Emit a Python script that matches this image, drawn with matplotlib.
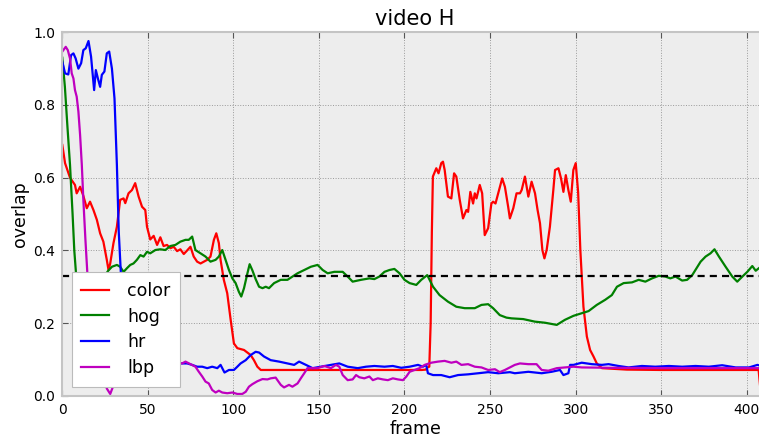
import matplotlib
matplotlib.use("Agg")
import matplotlib.pyplot as plt

# --- data: overlap per frame for each feature tracker ---
color_frames = [0, 1.6, 4.5, 7.4, 8.4, 10.4, 12.3, 14.3, 16.2, 18.2, 20.2, 22.1, 24, 26, 27, 28,
                29.9, 31.9, 33.8, 35.8, 36.8, 38.7, 40.7, 42.6, 44.6, 46.6, 48.5, 49.5, 51.4, 53.4,
                55.4, 57.3, 59.2, 61.2, 63.2, 65.1, 67.1, 69, 71, 73, 74.9, 76.8, 78.8, 80.8, 82.7,
                84.7, 86.6, 88.6, 90, 91.5, 92.5, 94.4, 96.4, 98.4, 100.3, 102.3, 106.2, 110.1, 112,
                114, 116, 130, 150, 170, 190, 210, 212.5, 213.5, 214.5, 215.3, 216, 216.6, 218.6,
                219.9, 221.5, 222.5, 223.5, 225.4, 227.4, 229, 230.3, 232.3, 234.2, 236.2, 237.2,
                238.5, 240.1, 241.1, 242.1, 244, 245.4, 246.9, 248.9, 250.8, 251.8, 253.2, 254.8,
                257.1, 258.7, 260.6, 261.6, 263.6, 265.5, 267.5, 268.5, 270.4, 272.4, 274.3, 276.3,
                277.8, 279.2, 280.6, 281.8, 283.1, 285, 287, 288, 290, 291.5, 292.9, 294.3, 295.8,
                297.2, 298.7, 300.1, 301.5, 302.8, 304.6, 306.6, 308.5, 310.5, 312.4, 315.4, 330,
                350, 370, 390, 407, 408, 409]
color_vals = [0.69, 0.64, 0.60, 0.58, 0.557, 0.575, 0.55, 0.516, 0.534, 0.511, 0.484, 0.447, 0.424,
              0.374, 0.346, 0.364, 0.42, 0.465, 0.539, 0.543, 0.53, 0.557, 0.566, 0.585, 0.548,
              0.52, 0.511, 0.465, 0.43, 0.44, 0.415, 0.436, 0.412, 0.415, 0.406, 0.41, 0.398, 0.403,
              0.39, 0.40, 0.41, 0.383, 0.369, 0.364, 0.369, 0.374, 0.383, 0.429, 0.447, 0.42, 0.374,
              0.319, 0.282, 0.209, 0.144, 0.131, 0.126, 0.112, 0.098, 0.08, 0.071, 0.071, 0.071,
              0.071, 0.071, 0.071, 0.072, 0.078, 0.08, 0.2, 0.45, 0.603, 0.626, 0.612, 0.64, 0.644,
              0.621, 0.548, 0.543, 0.612, 0.603, 0.539, 0.488, 0.511, 0.506, 0.561, 0.529, 0.557,
              0.543, 0.58, 0.557, 0.442, 0.461, 0.529, 0.534, 0.529, 0.557, 0.598, 0.575, 0.52,
              0.488, 0.516, 0.557, 0.557, 0.566, 0.603, 0.548, 0.589, 0.557, 0.511, 0.475, 0.401,
              0.378, 0.401, 0.465, 0.566, 0.621, 0.626, 0.598, 0.561, 0.607, 0.566, 0.534, 0.621,
              0.64, 0.56, 0.40, 0.245, 0.163, 0.126, 0.108, 0.089, 0.076, 0.072, 0.071, 0.071,
              0.071, 0.071, 0.02, 0.0]

hog_frames = [0, 1.5, 3, 4.5, 6, 7, 8, 9, 12, 16, 20, 25, 27, 29, 31.9, 33.8, 35.8, 37.8, 39.7,
              41.6, 43.6, 45.6, 47.5, 49.5, 51.4, 54.4, 57.3, 60.2, 63.2, 66.1, 69, 72, 73.9, 75.9,
              77.8, 80.8, 83.7, 86.6, 89.6, 91.5, 93.5, 95.4, 97.4, 99.4, 101.3, 103.2, 104.6,
              106.2, 108.2, 109.5, 111.1, 113, 115, 117, 118.9, 120.8, 123.8, 127.7, 131.6, 134.5,
              137.5, 141.4, 145.3, 149.2, 152.2, 155.1, 159, 163.9, 166.8, 169.7, 174.6, 179.5,
              182.4, 185.3, 188.3, 191.2, 194.1, 197.1, 200, 203, 206.9, 209.8, 213.3, 216.7,
              220.5, 225.4, 230.3, 235.2, 241.1, 245, 248.9, 251.8, 255.7, 259.6, 262.6, 269.4,
              276.2, 282.1, 289, 293.8, 298.8, 303.6, 307.6, 312.4, 317.3, 321.2, 324.2, 328.1,
              333, 336.9, 340.8, 344.7, 348.6, 352.5, 355.4, 358.4, 362.3, 365.2, 368.2, 373.1,
              376, 378.9, 381.2, 383.8, 387.7, 391.6, 394.5, 397.5, 400.4, 403.3, 405.3, 408.2, 410]
hog_vals = [0.93, 0.85, 0.74, 0.635, 0.50, 0.40, 0.337, 0.332, 0.332, 0.332, 0.332, 0.332, 0.345,
            0.355, 0.36, 0.355, 0.341, 0.351, 0.36, 0.364, 0.374, 0.387, 0.383, 0.396, 0.392, 0.401,
            0.403, 0.401, 0.412, 0.415, 0.424, 0.429, 0.429, 0.438, 0.401, 0.392, 0.383, 0.369,
            0.374, 0.383, 0.401, 0.374, 0.346, 0.323, 0.31, 0.286, 0.273, 0.296, 0.337, 0.362,
            0.345, 0.321, 0.30, 0.296, 0.30, 0.296, 0.31, 0.319, 0.319, 0.328, 0.337, 0.346, 0.355,
            0.36, 0.346, 0.337, 0.341, 0.341, 0.328, 0.314, 0.319, 0.323, 0.321, 0.328, 0.341,
            0.346, 0.349, 0.337, 0.319, 0.31, 0.305, 0.319, 0.332, 0.30, 0.277, 0.259, 0.245,
            0.241, 0.241, 0.25, 0.252, 0.241, 0.222, 0.215, 0.213, 0.211, 0.204, 0.201, 0.195,
            0.209, 0.22, 0.227, 0.233, 0.25, 0.264, 0.277, 0.30, 0.31, 0.312, 0.319, 0.314, 0.323,
            0.33, 0.328, 0.323, 0.328, 0.317, 0.319, 0.332, 0.369, 0.383, 0.392, 0.403, 0.383,
            0.355, 0.328, 0.314, 0.328, 0.341, 0.357, 0.344, 0.355, 0.35]

hr_frames = [0, 1.6, 3.5, 5.1, 6.5, 7.8, 9.4, 11, 12.3, 13.7, 15.3, 16.8, 18.6, 19.6, 20.8, 22.1,
             23.1, 24.6, 26, 27.4, 29, 30.5, 31.9, 33, 34.3, 35.5, 37, 40, 45, 50, 55, 60, 65, 70,
             73, 75.9, 78.8, 81.8, 84.7, 87.6, 90.6, 92.5, 94.8, 97.4, 100.3, 102.3, 104.2, 107.2,
             110.1, 113, 115, 117.9, 121.8, 126.7, 131.6, 135.5, 138.4, 142.4, 146.3, 151.1, 157,
             161.9, 166.8, 172.7, 177.5, 182.4, 188.3, 193.2, 198.1, 203, 207.9, 210.8, 212.7,
             213.7, 216.7, 221.5, 226.4, 231.3, 237.2, 243.1, 248.9, 254.8, 261.6, 264.5, 272.4,
             280.2, 286, 290.9, 292.9, 295.8, 296.8, 298.8, 303.6, 309.5, 315.4, 319.3, 325.1, 331,
             338.8, 346.6, 354.5, 362.3, 370.1, 377.9, 385.7, 393.6, 401.4, 406.3, 410]
hr_vals = [0.919, 0.887, 0.884, 0.937, 0.942, 0.928, 0.90, 0.915, 0.951, 0.956, 0.976, 0.933,
           0.841, 0.896, 0.873, 0.85, 0.883, 0.892, 0.942, 0.947, 0.90, 0.818, 0.635, 0.45, 0.33,
           0.2, 0.12, 0.10, 0.095, 0.09, 0.095, 0.09, 0.09, 0.089, 0.089, 0.085, 0.08, 0.08,
           0.076, 0.08, 0.076, 0.085, 0.064, 0.071, 0.071, 0.08, 0.089, 0.098, 0.112, 0.121,
           0.119, 0.108, 0.098, 0.094, 0.089, 0.085, 0.094, 0.085, 0.076, 0.08, 0.085, 0.089,
           0.08, 0.076, 0.08, 0.082, 0.08, 0.082, 0.077, 0.08, 0.085, 0.08, 0.085, 0.062, 0.057,
           0.057, 0.051, 0.057, 0.059, 0.062, 0.065, 0.062, 0.065, 0.062, 0.066, 0.062, 0.066,
           0.071, 0.057, 0.062, 0.085, 0.085, 0.091, 0.087, 0.085, 0.087, 0.082, 0.078, 0.082,
           0.08, 0.082, 0.08, 0.082, 0.08, 0.084, 0.078, 0.078, 0.085, 0.08]

lbp_frames = [0, 2, 3.2, 4.5, 5.5, 6.5, 7.4, 8.4, 9.4, 10.4, 11.4, 12.3, 13.5, 14.7, 17, 20, 23,
              26, 28, 30, 33, 37, 45, 55, 62, 67, 70, 72, 74.9, 77.8, 79.8, 81.8, 83.7, 85.6,
              87.6, 89.6, 91.5, 93.5, 96.4, 99.4, 102.3, 105.2, 107.2, 109.1, 111.1, 114, 117,
              119.9, 121.8, 124.7, 127.7, 129.6, 132.5, 134.5, 137.5, 139.4, 141.4, 143.3, 146.3,
              149.2, 153.1, 157, 159.9, 161.9, 163.9, 166.8, 169.7, 171.7, 173.6, 176.5, 179.5,
              181.5, 184.4, 187.4, 190.3, 193.2, 196.2, 199.1, 201.1, 203, 205.9, 208.8, 211.8,
              215.7, 219.6, 223.5, 227.4, 230.3, 233.3, 237.2, 241.1, 245, 248.9, 252.9, 255.7,
              258.7, 261.6, 264.5, 267.5, 272.4, 277.2, 280.2, 284.1, 289, 293.8, 298.8, 303.6,
              320, 350, 380, 410]
lbp_vals = [0.947, 0.96, 0.951, 0.928, 0.887, 0.873, 0.841, 0.823, 0.782, 0.717, 0.635, 0.539,
            0.43, 0.332, 0.22, 0.13, 0.07, 0.02, 0.005, 0.03, 0.07, 0.085, 0.09, 0.085, 0.09,
            0.092, 0.089, 0.094, 0.087, 0.08, 0.066, 0.053, 0.039, 0.034, 0.016, 0.009, 0.014,
            0.009, 0.007, 0.009, 0.005, 0.005, 0.011, 0.025, 0.032, 0.04, 0.046, 0.045, 0.048,
            0.05, 0.03, 0.023, 0.03, 0.025, 0.034, 0.048, 0.062, 0.076, 0.076, 0.076, 0.082,
            0.076, 0.085, 0.08, 0.057, 0.043, 0.045, 0.057, 0.051, 0.048, 0.053, 0.043, 0.048,
            0.045, 0.043, 0.048, 0.045, 0.043, 0.053, 0.066, 0.071, 0.076, 0.085, 0.091, 0.094,
            0.096, 0.091, 0.094, 0.085, 0.087, 0.08, 0.078, 0.071, 0.073, 0.065, 0.071, 0.078,
            0.085, 0.089, 0.087, 0.087, 0.071, 0.069, 0.076, 0.078, 0.08, 0.078, 0.077, 0.076,
            0.076, 0.076]

threshold = 0.33
series_names = ["color", "hog", "hr", "lbp"]
series_colors = ["#ff0000", "#008000", "#0000ff", "#bf00bf"]

x_ticks = [0, 50, 100, 150, 200, 250, 300, 350, 400]
y_ticks = [0.0, 0.2, 0.4, 0.6, 0.8, 1.0]

# --- figure ---
fig = plt.figure(figsize=(7.59, 4.40), dpi=100)
ax = fig.add_axes([0.0821, 0.1005, 0.9298, 0.8261])
ax.set_facecolor("#ededed")

series = [(color_frames, color_vals), (hog_frames, hog_vals),
          (hr_frames, hr_vals), (lbp_frames, lbp_vals)]
for (fr, vals), name, col in zip(series, series_names, series_colors):
    ax.plot(fr, vals, color=col, lw=1.6, label=name)

ax.axhline(threshold, color="black", lw=1.6, linestyle=(0, (3.2, 2.3)))

ax.set_xlim(0, 412.5)
ax.set_ylim(0, 1.0)
ax.set_xticks(x_ticks)
ax.set_yticks(y_ticks)
ax.set_yticklabels([f"{t:.1f}" for t in y_ticks])
ax.grid(True, color="#9a9a9a", linestyle=":", lw=0.7)
ax.set_axisbelow(True)
for s in ax.spines.values():
    s.set_color("#c4c4c4")
    s.set_linewidth(1.5)
ax.tick_params(direction="in", top=True, right=True, length=4, width=0.8,
               color="#555555", labelsize=10, pad=5)

ax.set_title("video H", fontsize=15, pad=5)
ax.set_xlabel("frame", fontsize=12.5, labelpad=2)
ax.set_ylabel("overlap", fontsize=12.5, labelpad=3)

leg = ax.legend(loc="lower left", bbox_to_anchor=(9.4 / 705.7, 9.1 / 363.5),
                borderaxespad=0, fontsize=12.5, fancybox=False, framealpha=1,
                handlelength=1.6, handletextpad=1.05, labelspacing=0.45,
                borderpad=0.55)
leg.get_frame().set_edgecolor("#bbbbbb")
leg.get_frame().set_linewidth(0.8)
for line in leg.get_lines():
    line.set_linewidth(1.6)

fig.savefig("out.png", dpi=100)
